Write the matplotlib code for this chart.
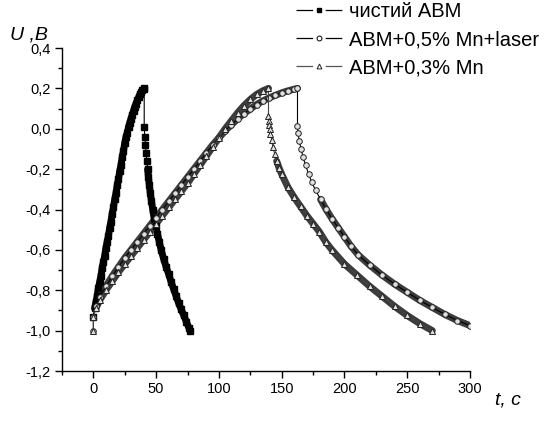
import matplotlib
matplotlib.use('Agg')
import matplotlib.pyplot as plt
from matplotlib.ticker import MultipleLocator, FuncFormatter
from matplotlib.lines import Line2D

plt.rcParams['font.family'] = ['Liberation Sans', 'DejaVu Sans']
plt.rcParams['lines.scale_dashes'] = False

# чистий АВМ (charge, then discharge)
pure_t = [0, 1, 2, 3, 4, 5, 6, 7, 8, 9, 10, 11, 12, 13, 14, 15, 16, 17, 18, 19, 20,
          21, 22, 23, 24, 25, 26, 27, 28, 29, 30, 31, 32, 33, 34, 35, 36, 37, 38, 39, 40, 40.5,
          40.5, 41, 41.5, 42, 42.6, 43.2, 43.9, 44.6, 45.4, 46.3, 47.3, 48.4, 49.6, 51, 52.5,
          54, 56, 58, 60, 62, 64, 66, 68, 70, 72, 74, 76, 77]
pure_u = [-0.93, -0.89, -0.86, -0.83, -0.79, -0.76, -0.73, -0.69, -0.66, -0.63, -0.59,
          -0.56, -0.53, -0.49, -0.46, -0.42, -0.39, -0.35, -0.32, -0.28, -0.25, -0.21, -0.18,
          -0.14, -0.11, -0.07, -0.04, -0.02, 0.01, 0.03, 0.05, 0.07, 0.09, 0.11, 0.125, 0.14,
          0.155, 0.17, 0.18, 0.19, 0.197, 0.2,
          0.01, -0.04, -0.08, -0.12, -0.16, -0.2, -0.24, -0.28, -0.32, -0.36, -0.40, -0.44,
          -0.48, -0.52, -0.56, -0.60, -0.645, -0.685, -0.72, -0.76, -0.795, -0.83, -0.865,
          -0.895, -0.925, -0.955, -0.985, -1.0]
pure_peak = 42  # index of first discharge point

# АВМ+0,5% Mn+laser
laser_t = [0, 0, 2, 5, 10, 15, 20, 25, 30, 35, 40, 45, 50, 55, 60, 65, 70, 75, 80, 85, 90,
           95, 100, 105, 110, 115, 120, 125, 130, 135, 140, 145, 150, 155, 160, 162.6,
           162.6, 163, 164, 165.5, 167, 169, 171.5, 174, 177, 181, 185, 190, 195, 200, 205,
           211, 220, 230, 240, 250, 260, 270, 280, 290, 300]
laser_u = [-1.0, -0.93, -0.88, -0.835, -0.78, -0.73, -0.685, -0.64, -0.6, -0.56, -0.52,
           -0.48, -0.44, -0.40, -0.36, -0.32, -0.28, -0.24, -0.2, -0.16, -0.12, -0.08,
           -0.045, -0.01, 0.02, 0.05, 0.075, 0.098, 0.12, 0.138, 0.153, 0.166, 0.178, 0.188,
           0.196, 0.2,
           0.015, -0.02, -0.06, -0.1, -0.14, -0.18, -0.225, -0.265, -0.305, -0.35, -0.395,
           -0.445, -0.49, -0.535, -0.58, -0.625, -0.675, -0.725, -0.77, -0.81, -0.85,
           -0.885, -0.92, -0.95, -0.975]
laser_peak = 36

# АВМ+0,3% Mn
mn_t = [0, 0, 2, 5, 10, 15, 20, 25, 30, 35, 40, 45, 50, 55, 60, 65, 70, 75, 80, 85, 90,
        95, 100, 105, 110, 115, 120, 125, 130, 135, 139.5,
        139.5, 139.7, 140, 140.4, 141, 142, 143, 144.5, 146, 148, 150, 155, 160, 165, 170,
        175, 180, 185, 190, 200, 210, 220, 230, 240, 250, 260, 270]
mn_u = [-1.0, -0.93, -0.89, -0.85, -0.80, -0.755, -0.71, -0.67, -0.63, -0.59, -0.55,
        -0.51, -0.47, -0.43, -0.39, -0.35, -0.31, -0.27, -0.225, -0.18, -0.135, -0.09,
        -0.045, 0.0, 0.04, 0.08, 0.115, 0.145, 0.17, 0.188, 0.2,
        0.065, 0.04, 0.02, 0.0, -0.025, -0.055, -0.09, -0.125, -0.16, -0.195, -0.225,
        -0.29, -0.34, -0.385, -0.43, -0.47, -0.51, -0.56, -0.6, -0.67, -0.725, -0.78,
        -0.83, -0.88, -0.925, -0.965, -1.0]
mn_peak = 31

labels = ['чистий АВМ', 'АВМ+0,5% Mn+laser', 'АВМ+0,3% Mn']

fig = plt.figure(figsize=(5.47, 4.23), dpi=100)
ax = fig.add_axes([0.1133, 0.1229, 0.7459, 0.7636])

band = '#3c3c3c'
# thick bands where the markers overlap
ax.plot(pure_t[1:pure_peak], pure_u[1:pure_peak], color='black', lw=5, solid_capstyle='round', zorder=2)
ax.plot(pure_t[pure_peak + 5:], pure_u[pure_peak + 5:], color='black', lw=5, solid_capstyle='round', zorder=2)
ax.plot(laser_t[2:laser_peak], laser_u[2:laser_peak], color=band, lw=5, solid_capstyle='round', zorder=2)
ax.plot(laser_t[laser_peak + 9:], laser_u[laser_peak + 9:], color=band, lw=5, solid_capstyle='round', zorder=2)
ax.plot(mn_t[2:mn_peak], mn_u[2:mn_peak], color=band, lw=5, solid_capstyle='round', zorder=2)
ax.plot(mn_t[mn_peak + 8:], mn_u[mn_peak + 8:], color=band, lw=5, solid_capstyle='round', zorder=2)

ax.plot(pure_t, pure_u, color='black', lw=0.8, marker='s', ms=4.5,
        mfc='black', mec='black', zorder=3)
ax.plot(laser_t, laser_u, color='black', lw=0.8, marker='o', ms=4,
        mfc='#e0e0e0', mec='#222222', mew=0.7, zorder=4)
ax.plot(mn_t, mn_u, color='#444444', lw=0.8, marker='^', ms=4,
        mfc='#e0e0e0', mec='#222222', mew=0.7, zorder=5)

ax.set_xlim(-25, 300)
ax.set_ylim(-1.2, 0.4)
ax.xaxis.set_major_locator(MultipleLocator(50))
ax.xaxis.set_minor_locator(MultipleLocator(25))
ax.yaxis.set_major_locator(MultipleLocator(0.2))
ax.yaxis.set_minor_locator(MultipleLocator(0.1))
ax.xaxis.set_major_formatter(FuncFormatter(lambda v, p: '{:.0f}'.format(v)))
ax.yaxis.set_major_formatter(FuncFormatter(lambda v, p: '{:.1f}'.format(v).replace('.', ',').replace('-0,0', '0,0')))
ax.spines['top'].set_visible(False)
ax.spines['right'].set_visible(False)
for s in ('left', 'bottom'):
    ax.spines[s].set_linewidth(1.0)
ax.tick_params(which='major', direction='out', length=5, width=1.0, labelsize=10.5, pad=3)
ax.tick_params(which='minor', direction='out', length=3, width=1.0)

fig.text(0.018, 0.918, 'U ,B', fontsize=14, style='italic', ha='left', va='center')
fig.text(0.952, 0.055, 't, c', fontsize=14, style='italic', ha='right', va='center')

handles = [
    Line2D([], [], color='black', lw=0.9, dashes=(12, 9), marker='s', ms=3.5, mfc='black', mec='black'),
    Line2D([], [], color='black', lw=0.9, dashes=(12, 9), marker='o', ms=3.5, mfc='white', mec='black', mew=0.7),
    Line2D([], [], color='#555555', lw=0.9, dashes=(12, 9), marker='^', ms=3.5, mfc='white', mec='#222222', mew=0.7),
]
fig.legend(handles, labels, loc='upper left', bbox_to_anchor=(0.538, 1.0), frameon=False,
           fontsize=14.5, handlelength=2.3, handletextpad=0.3, labelspacing=0.45,
           borderpad=0.1, borderaxespad=0.0)

fig.savefig('out.png', dpi=100)
